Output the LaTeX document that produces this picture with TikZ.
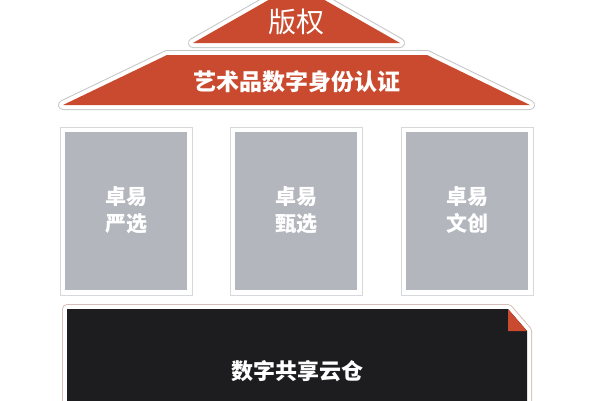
\documentclass[tikz,border=0pt]{standalone}
\usepackage{fontspec}
\newfontfamily\cjk{Noto Sans CJK SC}
\definecolor{roofred}{HTML}{C94A2E}
\definecolor{ringgrey}{HTML}{C4C6C9}
\definecolor{pillargrey}{HTML}{B3B6BD}
\definecolor{pillarline}{HTML}{D6D8DB}
\definecolor{basebk}{HTML}{1D1D1F}
\definecolor{basering}{HTML}{D9BFBB}
\tikzset{
  ringouter/.style={draw=#1, line width=10pt, line join=round},
  ringinner/.style={draw=white, line width=8pt, line join=round},
  pillarbox/.style={draw=pillarline, line width=1pt, fill=white},
  pillarfill/.style={fill=pillargrey},
  pillartext/.style={text=white, align=center, font=\cjk\bfseries\fontsize{21}{27}\selectfont},
  bandtext/.style={text=white, font=\cjk\bfseries\fontsize{23}{26}\selectfont},
}
\begin{document}
\begin{tikzpicture}[x=1pt, y=-1pt]
\useasboundingbox (0,0) rectangle (600,400);
\fill[white] (0,0) rectangle (600,400);
% top triangle
\path[ringouter=ringgrey] (193,43) -- (400,43) -- (296.5,-16) -- cycle;
\path[ringinner] (193,43) -- (400,43) -- (296.5,-16) -- cycle;
\fill[roofred] (193,43) -- (400,43) -- (296.5,-16) -- cycle;
% trapezoid band
\path[ringouter=ringgrey] (167,55) -- (427,55) -- (530,105) -- (63,105) -- cycle;
\path[ringinner] (167,55) -- (427,55) -- (530,105) -- (63,105) -- cycle;
\fill[roofred] (167,55) -- (427,55) -- (530,105) -- (63,105) -- cycle;
\node[text=white, font=\cjk\fontsize{28}{30}\selectfont] (copyright) at (296,22) {版权};
\node[bandtext] (artid) at (297,82) {艺术品数字身份认证};
% pillars
\foreach \cx/\nm/\txt in {126/p1/{卓易\\严选}, 296/p2/{卓易\\甄选}, 467/p3/{卓易\\文创}} {
  \draw[pillarbox] (\cx-66,127) rectangle (\cx+66,295);
  \fill[pillarfill] (\cx-61,132) rectangle (\cx+61,290);
  \node[pillartext] (\nm) at (\cx,210) {\txt};
}
% base
\path[ringouter=basering] (67,309) -- (508,309) -- (527,331) -- (527,420) -- (67,420) -- cycle;
\path[ringinner] (67,309) -- (508,309) -- (527,331) -- (527,420) -- (67,420) -- cycle;
\fill[basebk] (67,309) -- (508,309) -- (527,331) -- (527,420) -- (67,420) -- cycle;
\fill[roofred] (508,309) -- (508,331) -- (527,331) -- cycle;
\node[bandtext, font=\cjk\bfseries\fontsize{22}{24}\selectfont] (cloud) at (297,371) {数字共享云仓};
\end{tikzpicture}
\end{document}
